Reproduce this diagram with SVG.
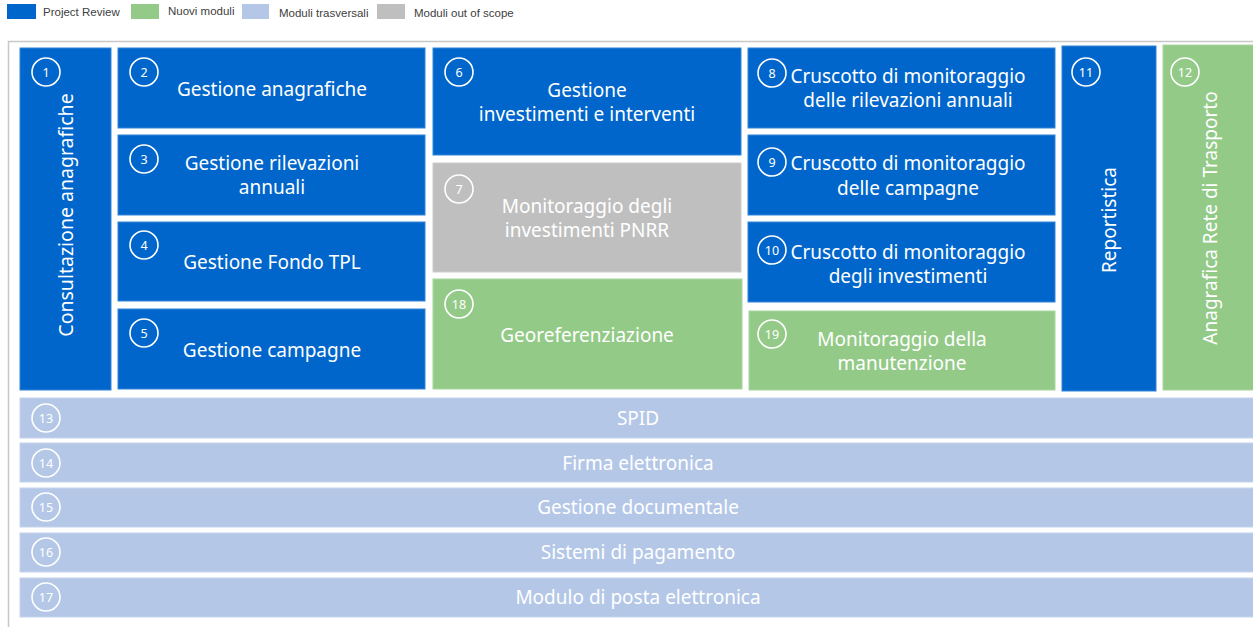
<svg xmlns="http://www.w3.org/2000/svg" width="1253" height="627" viewBox="0 0 1253 627">
<style>
.blue{fill:#0066CC;stroke:#3385d6;stroke-width:1}
.green{fill:#94CA88;stroke:#a9d59f;stroke-width:1}
.lblue{fill:#B4C7E7;stroke:#c5d4ed;stroke-width:1}
.gray{fill:#BFBFBF;stroke:#cccccc;stroke-width:1}
.lbl{font-family:"Noto Sans","Liberation Sans",sans-serif;font-size:19px;fill:#ffffff;text-anchor:middle}
.badge{fill:none;stroke:#ffffff;stroke-width:1.6}
.num{font-family:"Noto Sans","Liberation Sans",sans-serif;font-size:12.5px;fill:#ffffff;text-anchor:middle}
.leg{font-family:"Liberation Sans","Noto Sans",sans-serif;font-size:11.5px;fill:#404040}
</style>
<rect x="0" y="0" width="1253" height="627" fill="#ffffff"/>
<g id="legend">
<rect x="7" y="4" width="29" height="15" fill="#0066CC"/>
<text class="leg" x="43" y="16">Project Review</text>
<rect x="131" y="4" width="28" height="15" fill="#94CA88"/>
<text class="leg" x="168" y="14.5">Nuovi moduli</text>
<rect x="242" y="4" width="27" height="15" fill="#B4C7E7"/>
<text class="leg" x="279" y="16.5">Moduli trasversali</text>
<rect x="377" y="4" width="28" height="15" fill="#BFBFBF"/>
<text class="leg" x="414" y="16.5">Moduli out of scope</text>
</g>
<rect id="frame" x="8.5" y="41.5" width="1260" height="600" fill="none" stroke="#C8C8C8" stroke-width="1.5"/>
<g id="n1">
<rect class="blue" x="20" y="48" width="91" height="342"/>
<circle class="badge" cx="46" cy="72" r="14"/><text class="num" x="46" y="76.5">1</text>
<text class="lbl" transform="translate(73,215) rotate(-90)" style="font-size:19.5px">Consultazione anagrafiche</text>
</g>
<g id="n2">
<rect class="blue" x="118" y="48" width="307" height="80"/>
<circle class="badge" cx="144" cy="72" r="14"/><text class="num" x="144" y="76.5">2</text>
<text class="lbl" x="272" y="95.5">Gestione anagrafiche</text>
</g>
<g id="n3">
<rect class="blue" x="118" y="135" width="307" height="80"/>
<circle class="badge" cx="144" cy="159" r="14"/><text class="num" x="144" y="163.5">3</text>
<text class="lbl" x="272" y="170">Gestione rilevazioni</text>
<text class="lbl" x="272" y="194">annuali</text>
</g>
<g id="n4">
<rect class="blue" x="118" y="222" width="307" height="79"/>
<circle class="badge" cx="144" cy="245" r="14"/><text class="num" x="144" y="249.5">4</text>
<text class="lbl" x="272" y="269">Gestione Fondo TPL</text>
</g>
<g id="n5">
<rect class="blue" x="118" y="309" width="307" height="80"/>
<circle class="badge" cx="144" cy="333" r="14"/><text class="num" x="144" y="337.5">5</text>
<text class="lbl" x="272" y="357">Gestione campagne</text>
</g>
<g id="n6">
<rect class="blue" x="433" y="48" width="308" height="107"/>
<circle class="badge" cx="459" cy="72" r="14"/><text class="num" x="459" y="76.5">6</text>
<text class="lbl" x="587" y="97">Gestione</text>
<text class="lbl" x="587" y="121">investimenti e interventi</text>
</g>
<g id="n7">
<rect class="gray" x="433" y="163" width="308" height="109"/>
<circle class="badge" cx="459" cy="189" r="14"/><text class="num" x="459" y="193.5">7</text>
<text class="lbl" x="587" y="213">Monitoraggio degli</text>
<text class="lbl" x="587" y="237">investimenti PNRR</text>
</g>
<g id="n18">
<rect class="green" x="433" y="279" width="309" height="110"/>
<circle class="badge" cx="459" cy="304" r="14"/><text class="num" x="459" y="308.5">18</text>
<text class="lbl" x="587" y="342">Georeferenziazione</text>
</g>
<g id="n8">
<rect class="blue" x="748" y="48" width="307" height="80"/>
<circle class="badge" cx="772" cy="73" r="14"/><text class="num" x="772" y="77.5">8</text>
<text class="lbl" x="908" y="83">Cruscotto di monitoraggio</text>
<text class="lbl" x="908" y="107">delle rilevazioni annuali</text>
</g>
<g id="n9">
<rect class="blue" x="748" y="135" width="307" height="80"/>
<circle class="badge" cx="772" cy="162" r="14"/><text class="num" x="772" y="166.5">9</text>
<text class="lbl" x="908" y="170">Cruscotto di monitoraggio</text>
<text class="lbl" x="908" y="194.5">delle campagne</text>
</g>
<g id="n10">
<rect class="blue" x="748" y="222" width="307" height="80"/>
<circle class="badge" cx="772" cy="250" r="14"/><text class="num" x="772" y="254.5">10</text>
<text class="lbl" x="908" y="259">Cruscotto di monitoraggio</text>
<text class="lbl" x="908" y="283">degli investimenti</text>
</g>
<g id="n19">
<rect class="green" x="749" y="311" width="306" height="79"/>
<circle class="badge" cx="772" cy="334" r="14"/><text class="num" x="772" y="338.5">19</text>
<text class="lbl" x="902" y="346">Monitoraggio della</text>
<text class="lbl" x="902" y="370">manutenzione</text>
</g>
<g id="n11">
<rect class="blue" x="1062" y="46" width="94" height="345"/>
<circle class="badge" cx="1086" cy="72" r="14"/><text class="num" x="1086" y="76.5">11</text>
<text class="lbl" transform="translate(1116,220) rotate(-90)">Reportistica</text>
</g>
<g id="n12">
<rect class="green" x="1163" y="45" width="100" height="345"/>
<circle class="badge" cx="1185" cy="72" r="14"/><text class="num" x="1185" y="76.5">12</text>
<text class="lbl" transform="translate(1217,218) rotate(-90)">Anagrafica Rete di Trasporto</text>
</g>
<g id="n13">
<rect class="lblue" x="20" y="398" width="1240" height="40"/>
<circle class="badge" cx="46" cy="418" r="14"/><text class="num" x="46" y="422.5">13</text>
<text class="lbl" x="638" y="425">SPID</text>
</g>
<g id="n14">
<rect class="lblue" x="20" y="443" width="1240" height="39"/>
<circle class="badge" cx="46" cy="463" r="14"/><text class="num" x="46" y="467.5">14</text>
<text class="lbl" x="638" y="470">Firma elettronica</text>
</g>
<g id="n15">
<rect class="lblue" x="20" y="488" width="1240" height="39"/>
<circle class="badge" cx="46" cy="507" r="14"/><text class="num" x="46" y="511.5">15</text>
<text class="lbl" x="638" y="514">Gestione documentale</text>
</g>
<g id="n16">
<rect class="lblue" x="20" y="533" width="1240" height="39"/>
<circle class="badge" cx="46" cy="552" r="14"/><text class="num" x="46" y="556.5">16</text>
<text class="lbl" x="638" y="559">Sistemi di pagamento</text>
</g>
<g id="n17">
<rect class="lblue" x="20" y="578" width="1240" height="39"/>
<circle class="badge" cx="46" cy="597" r="14"/><text class="num" x="46" y="601.5">17</text>
<text class="lbl" x="638" y="604">Modulo di posta elettronica</text>
</g>
<g id="connectors"></g>
</svg>
